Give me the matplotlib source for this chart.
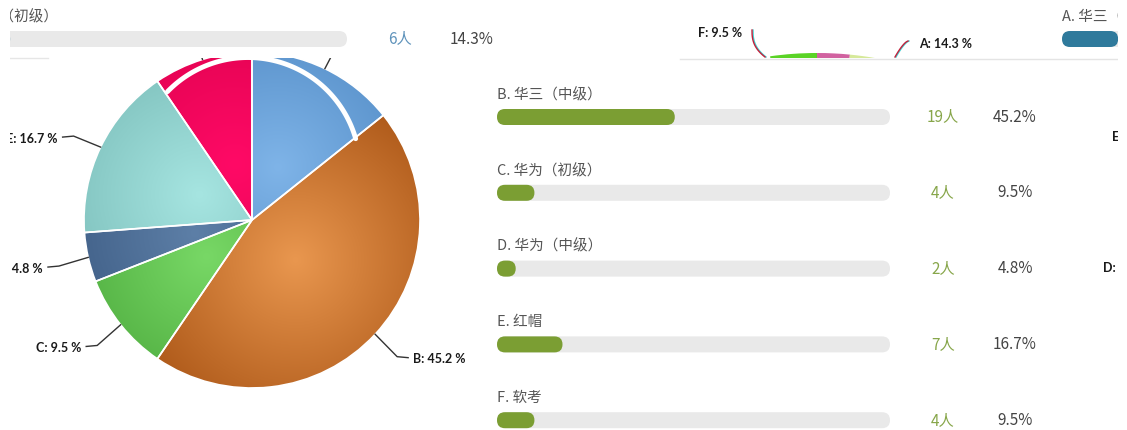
import matplotlib
matplotlib.use('Agg')
import matplotlib.pyplot as plt
from matplotlib.patches import FancyBboxPatch, Rectangle, Wedge
from matplotlib.colors import to_rgb
import numpy as np

plt.rcParams['font.family'] = ['Noto Sans CJK SC', 'DejaVu Sans']

# data
letters = ['A', 'B', 'C', 'D', 'E', 'F']
options = ['A. 华三（初级）', 'B. 华三（中级）', 'C. 华为（初级）',
           'D. 华为（中级）', 'E. 红帽', 'F. 软考']
counts = [6, 19, 4, 2, 7, 4]
pct_text = ['14.3%', '45.2%', '9.5%', '4.8%', '16.7%', '9.5%']
pie_text = ['14.3 %', '45.2 %', '9.5 %', '4.8 %', '16.7 %', '9.5 %']
total = sum(counts)

# slice colours (light centre, dark rim)
light = ['#7fb4e8', '#e9974f', '#78d866', '#5d7fa7', '#a6e5e1', '#ff0a66']
dark = ['#4a84bf', '#a85314', '#43a034', '#34527a', '#72b5b1', '#d9004a']

LABEL_FONT = ['Lato', 'DejaVu Sans']

W, H = 1127, 430
STRIP = 57.5  # height of the top strip that covers the pie top
fig = plt.figure(figsize=(W / 100, H / 100), dpi=100, facecolor='white')

# pie geometry in pixels
cx, cy, R = 252, 220, 168
pax = fig.add_axes([(cx - R) / W, (H - cy - R) / H, 2 * R / W, 2 * R / H])
wedges, _ = pax.pie(counts, startangle=90, counterclock=False, radius=1,
                    wedgeprops=dict(ec='white', lw=1.2))
n = 300
gx, gy = np.meshgrid(np.linspace(-1, 1, n), np.linspace(-1, 1, n))
mids = []
for i, w in enumerate(wedges):
    m = np.deg2rad((w.theta1 + w.theta2) / 2)
    mids.append(m)
    lx, ly = 0.35 * np.cos(m), 0.35 * np.sin(m)
    t = np.clip(np.hypot(gx - lx, gy - ly) / 1.15, 0, 1)[..., None]
    img = np.array(to_rgb(light[i])) * (1 - t) + np.array(to_rgb(dark[i])) * t
    im = pax.imshow(img, extent=(-1, 1, -1, 1), origin='lower',
                    aspect='auto', interpolation='bilinear', zorder=0)
    im.set_clip_path(w)
    w.set_facecolor('none')
    w.set_zorder(2)
# white ghost arc from the screenshot overlay
phi = np.deg2rad(np.linspace(16, 136, 100))
pax.plot(-0.024 + 0.667 * np.cos(phi), 0.30 + 0.667 * np.sin(phi),
         color='white', lw=3.5, zorder=3, solid_capstyle='round')
pax.set_xlim(-1, 1)
pax.set_ylim(-1, 1)
pax.axis('off')

# overlay axes in pixel coordinates
ax = fig.add_axes([10 / W, 0, 1108 / W, 1])
ax.set_xlim(10, 1118)
ax.set_ylim(H, 0)
ax.patch.set_alpha(0)
ax.axis('off')

# pie labels with connectors
for i, m in enumerate(mids):
    sx, sy = np.cos(m), -np.sin(m)
    ex, ey = cx + R * sx, cy + R * sy
    px, py = cx + (R + 30) * sx, cy + (R + 30) * sy
    side = 1 if sx > 0 else -1
    ax.plot([ex, px, px + 11 * side], [ey, py + 2, py + 3], color='#333333',
            lw=1, zorder=3)
    if py < STRIP:
        continue  # label sits under the top strip, not visible
    ax.text(px + 16 * side, py + 4.5, f'{letters[i]}: {pie_text[i]}',
            ha='left' if side > 0 else 'right', va='center', fontsize=9,
            fontweight='bold', color='#1a1a1a', family=LABEL_FONT,
            zorder=3, clip_on=True)

# the top strip of the screenshot hides the pie top
ax.add_patch(Rectangle((0, 0), W, STRIP, fc='white', ec='none', zorder=5))
ax.plot([10, 48], [58, 58], color='#e6e6e6', lw=1, zorder=6)
ax.plot([680, 1118], [58.5, 58.5], color='#e4e4e4', lw=1, zorder=6)

track_w, track_h = 393, 16


def pill(x, y, w, h, color):
    ax.add_patch(FancyBboxPatch((x, y - h / 2), w, h,
                                boxstyle=f'round,pad=0,rounding_size={h / 2}',
                                fc=color, ec='none', zorder=6, clip_on=True))


def option_row(i, x0, y0, bar_color, count_color):
    ax.text(x0, y0, options[i], ha='left', va='center', fontsize=10.5,
            color='#555555', zorder=6, clip_on=True)
    by = y0 + 22
    pill(x0, by, track_w, track_h, '#e9e9e9')
    pill(x0, by, track_w * counts[i] / total, track_h, bar_color)
    ax.text(x0 + 446, by, f'{counts[i]}人', ha='center', va='center',
            fontsize=11, color=count_color, zorder=6, clip_on=True)
    ax.text(x0 + 518, by, pct_text[i], ha='center', va='center',
            fontsize=11, color='#444444', zorder=6, clip_on=True)


# row A shows up twice, cut at both edges
option_row(0, -46, 17, '#2f7a9c', '#5f93bb')
option_row(0, 1062, 17, '#2f7a9c', '#5f93bb')
for i in range(1, 6):
    option_row(i, 497, 95 + 75.8 * (i - 1), '#7b9e33', '#87a64a')

# fragment of a second pie inside the top strip
strip = Rectangle((680, 0), 438, 58, transform=ax.transData)
for t1, t2, c in [(262, 270, '#5ad326'), (270, 275.6, '#d162a0'),
                  (275.6, 280, '#d6e99a')]:
    wg = Wedge((817, 390), 337, t1, t2, fc=c, ec='none', zorder=6)
    ax.add_patch(wg)
    wg.set_clip_path(strip)
f_curve = 30 + 27 * np.linspace(0, 1, 20) ** 0.6
f_x = 752 + 13 * np.linspace(0, 1, 20) ** 1.6
a_t = np.linspace(0, 1, 20)
a_x = 908 - 13 * a_t ** 0.7
a_y = 41 + 16 * a_t
for xs, ys in [(f_x, f_curve), (a_x, a_y)]:
    ax.plot(xs + 1, ys, color='#3fd6d6', lw=1, zorder=6)
    ax.plot(xs, ys, color='#c2203a', lw=1, zorder=7)
ax.text(742, 33, 'F: 9.5 %', ha='right', va='center', fontsize=9,
        fontweight='bold', color='#1a1a1a', family=LABEL_FONT, zorder=7)
ax.text(919, 44, 'A: 14.3 %', ha='left', va='center', fontsize=9,
        fontweight='bold', color='#1a1a1a', family=LABEL_FONT, zorder=7)

# label fragments at the right edge
ax.text(1112, 137, 'E', ha='left', va='center', fontsize=9,
        fontweight='bold', color='#1a1a1a', family=LABEL_FONT, clip_on=True)
ax.text(1103, 268, 'D:', ha='left', va='center', fontsize=9,
        fontweight='bold', color='#1a1a1a', family=LABEL_FONT, clip_on=True)

fig.savefig('out.png', dpi=100, facecolor='white')
